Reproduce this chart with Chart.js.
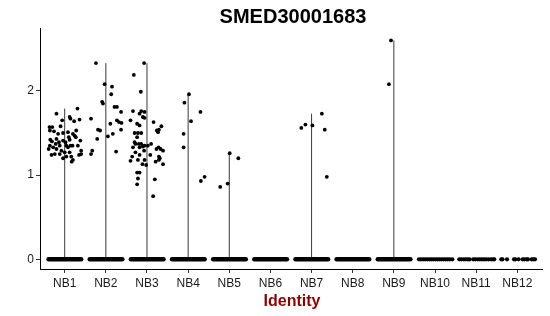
<!DOCTYPE html>
<html>
<head>
<meta charset="utf-8">
<script src="https://cdn.jsdelivr.net/npm/chart.js@4.4.1/dist/chart.umd.min.js"></script>
<style>
  html, body { margin: 0; padding: 0; background: #fff; }
  #wrap { width: 550px; height: 316px; }
</style>
</head>
<body>
<div id="wrap"><canvas id="c" width="550" height="316"></canvas></div>
<script>
// ---- data ----
const chartTitle = 'SMED30001683';
const xAxisTitle = 'Identity';
const categories = ['NB1','NB2','NB3','NB4','NB5','NB6','NB7','NB8','NB9','NB10','NB11','NB12'];
const yTicks = [0, 1, 2];

// non-zero cells: [jitter offset, expression]
const nb1Points = [[-0.20,1.73],[0.31,1.79],[0.12,1.69],[0.14,1.67],[0.36,1.66],[-0.06,1.65],[0.23,1.64],[-0.30,1.57],[-0.10,1.58],[-0.36,1.53],[-0.26,1.52],[-0.04,1.50],[0.08,1.51],[0.20,1.49],[0.24,1.47],[-0.35,1.42],[-0.31,1.40],[-0.20,1.43],[-0.14,1.39],[-0.04,1.41],[0.02,1.39],[0.12,1.42],[0.19,1.35],[0.27,1.45],[0.38,1.41],[-0.36,1.35],[-0.28,1.33],[-0.20,1.31],[-0.12,1.35],[0.04,1.35],[0.08,1.33],[0.14,1.35],[0.32,1.35],[0.40,1.29],[-0.39,1.31],[-0.32,1.24],[-0.24,1.25],[-0.12,1.25],[0.00,1.27],[0.12,1.27],[0.16,1.22],[0.20,1.18],[0.04,1.22],[0.35,1.24],[0.40,1.25],[-0.04,1.20],[0.17,1.16],[-0.16,1.49],[0.28,1.53],[-0.08,1.29],[-0.22,1.37],[0.10,1.45],[-0.37,1.57]];
const nb2Points = [[-0.24,2.33],[-0.03,2.08],[0.15,2.05],[0.13,1.96],[-0.09,1.87],[-0.07,1.85],[0.21,1.81],[0.27,1.81],[0.37,1.75],[-0.36,1.67],[0.27,1.65],[0.32,1.63],[0.11,1.61],[0.37,1.54],[-0.19,1.54],[-0.14,1.53],[0.17,1.49],[0.05,1.46],[-0.21,1.43],[-0.33,1.29],[0.25,1.28],[-0.36,1.25],[0.38,1.62]];
const nb3Points = [[-0.07,2.33],[-0.32,2.19],[-0.15,1.99],[-0.34,1.76],[-0.14,1.76],[-0.06,1.75],[-0.18,1.73],[-0.10,1.69],[-0.06,1.68],[-0.40,1.65],[0.16,1.63],[-0.24,1.61],[-0.18,1.59],[0.35,1.58],[0.29,1.54],[0.24,1.53],[0.27,1.51],[-0.30,1.50],[-0.22,1.50],[-0.14,1.50],[-0.24,1.45],[-0.30,1.39],[-0.28,1.37],[-0.20,1.37],[-0.14,1.37],[-0.06,1.35],[-0.10,1.34],[-0.34,1.33],[-0.18,1.33],[0.02,1.35],[0.10,1.37],[0.23,1.31],[0.28,1.33],[0.33,1.31],[0.39,1.29],[-0.28,1.27],[-0.07,1.29],[-0.18,1.24],[0.08,1.24],[-0.36,1.22],[0.29,1.22],[0.31,1.20],[-0.06,1.18],[-0.40,1.17],[0.21,1.16],[-0.22,1.18],[-0.02,1.12],[-0.11,1.13],[0.39,1.13],[0.29,1.18],[-0.24,1.03],[-0.18,1.03],[-0.22,0.96],[-0.24,0.89],[0.19,0.95],[0.15,0.75]];
const nb4Points = [[0.02,1.96],[-0.09,1.86],[0.30,1.75],[0.07,1.64],[-0.11,1.49],[-0.11,1.33],[0.31,0.93],[0.40,0.98]];
const nb5Points = [[0.01,1.26],[0.22,1.20],[-0.04,0.90],[-0.22,0.86]];
const nb6Points = [];
const nb7Points = [[0.25,1.73],[-0.15,1.60],[-0.25,1.56],[0.02,1.59],[0.32,1.54],[0.37,0.98]];
const nb8Points = [];
const nb9Points = [[-0.07,2.60],[-0.12,2.08]];
const nb10Points = [], nb11Points = [], nb12Points = [];
const nonZeroPoints = [nb1Points,nb2Points,nb3Points,nb4Points,nb5Points,nb6Points,nb7Points,nb8Points,nb9Points,nb10Points,nb11Points,nb12Points];

// zero-expression cells: dense run [from, to] of jitter offsets (NB1..NB9)
const zeroRuns = [[-0.39,0.40],[-0.39,0.40],[-0.39,0.40],[-0.39,0.40],[-0.39,0.40],[-0.39,0.40],[-0.39,0.40],[-0.39,0.40],[-0.39,0.40],null,null,null];
// sparse zero cells (NB10..NB12): jitter offsets
const nb10Zeros = [-0.39,-0.34,-0.29,-0.24,-0.19,-0.14,-0.09,-0.04,0.01,0.06,0.11,0.16,0.21,0.26,0.31,0.36,0.42];
const nb11Zeros = [-0.41,-0.36,-0.30,-0.25,-0.20,-0.16,-0.07,-0.02,0.04,0.09,0.14,0.19,0.24,0.30,0.36,0.41,0.44];
const nb12Zeros = [-0.39,-0.36,-0.25,-0.08,-0.05,0.03,0.13,0.17,0.23,0.26,0.35,0.39,0.43];
const sparseZeros = [null,null,null,null,null,null,null,null,null,nb10Zeros,nb11Zeros,nb12Zeros];

// ---- build datasets ----
const datasets = [];
categories.forEach((cat, i) => {
  const pts = nonZeroPoints[i];
  const maxVal = pts.length ? Math.max(...pts.map(p => p[1])) : 0;
  if (maxVal > 0) {
    datasets.push({ type:'line', data:[{x:i,y:0},{x:i,y:maxVal}], borderColor:'#3a3a3a', borderWidth:1, pointRadius:0, fill:false, order:3 });
  }
  if (zeroRuns[i]) {
    datasets.push({ type:'line', data:[{x:i+zeroRuns[i][0],y:0},{x:i+zeroRuns[i][1],y:0}], borderColor:'#000', borderWidth:4.6, borderCapStyle:'round', pointRadius:0, fill:false, order:2 });
  }
  if (sparseZeros[i]) {
    datasets.push({ type:'scatter', data: sparseZeros[i].map(o => ({x:i+o, y:0})), pointRadius:2.1, backgroundColor:'#000', borderWidth:0, order:1 });
  }
  if (pts.length) {
    datasets.push({ type:'scatter', data: pts.map(p => ({x:i+p[0], y:p[1]})), pointRadius:1.9, backgroundColor:'#000', borderWidth:0, order:1 });
  }
});

const textPlugin = {
  id: 'texts',
  afterDraw(chart) {
    const ctx = chart.ctx;
    ctx.save();
    ctx.fillStyle = '#000';
    ctx.font = 'bold 20px "Liberation Sans", Arial, sans-serif';
    ctx.textAlign = 'center';
    ctx.textBaseline = 'alphabetic';
    ctx.fillText(chartTitle, 293, 23);
    ctx.fillStyle = '#8b0000';
    ctx.font = 'bold 16px "Liberation Sans", Arial, sans-serif';
    ctx.fillText(xAxisTitle, 292, 306);
    ctx.restore();
  }
};

new Chart(document.getElementById('c'), {
  type: 'scatter',
  data: { datasets },
  plugins: [textPlugin],
  options: {
    responsive: false,
    animation: false,
    devicePixelRatio: 1,
    layout: { padding: { top: 28, right: 8, left: 0, bottom: 0 } },
    plugins: { legend: { display: false }, tooltip: { enabled: false }, title: { display: false } },
    scales: {
      x: {
        type: 'linear', min: -0.6, max: 11.6,
        afterBuildTicks: s => { s.ticks = categories.map((_, i) => ({ value: i })); },
        afterFit: s => { s.height = 47; },
        ticks: { callback: v => categories[v], autoSkip: false, maxRotation: 0, color: '#1a1a1a', padding: 3,
                 font: { family: '"Liberation Sans", Arial, sans-serif', size: 12 } },
        grid: { display: true, drawOnChartArea: false, drawTicks: true, tickLength: 4, color: '#333' },
        border: { display: true, color: '#000', width: 1 }
      },
      y: {
        type: 'linear', min: -0.115, max: 2.747,
        afterBuildTicks: s => { s.ticks = yTicks.map(v => ({ value: v })); },
        afterFit: s => { s.width = 40; },
        ticks: { color: '#1a1a1a', padding: 2,
                 font: { family: '"Liberation Sans", Arial, sans-serif', size: 12 } },
        grid: { display: true, drawOnChartArea: false, drawTicks: true, tickLength: 4, color: '#333' },
        border: { display: true, color: '#000', width: 1 }
      }
    }
  }
});
</script>
</body>
</html>
